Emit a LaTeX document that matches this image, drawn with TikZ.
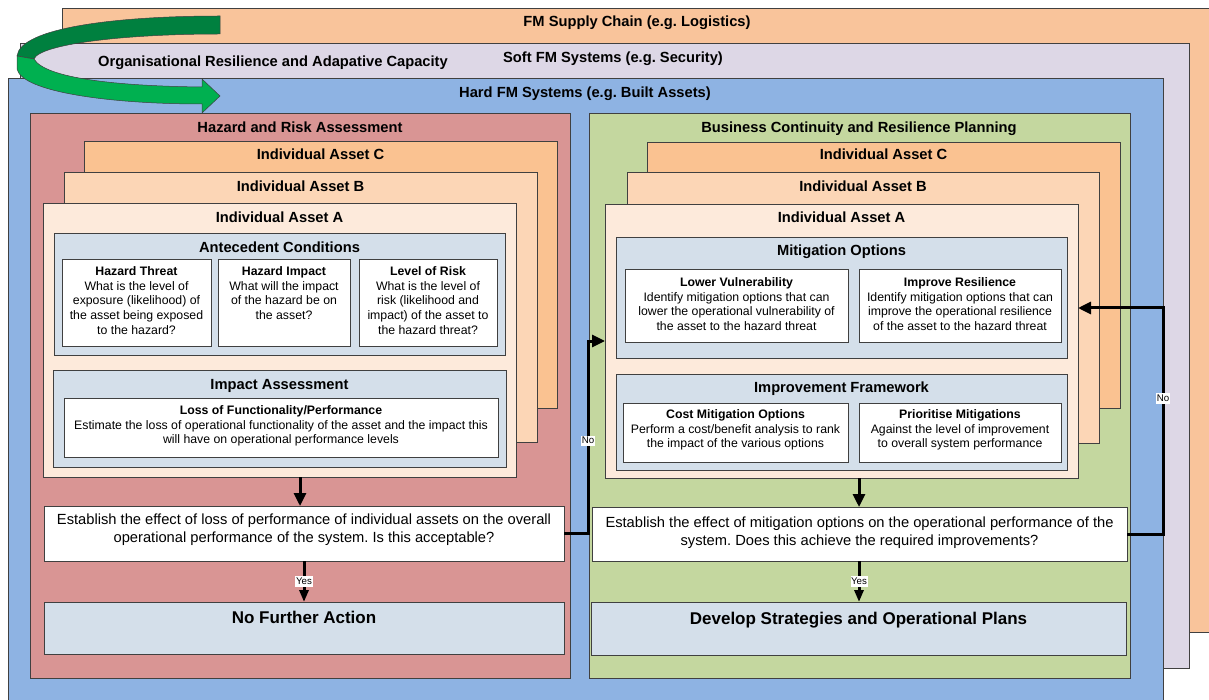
\documentclass[tikz,border=0pt]{standalone}
\usepackage{fontspec}
\setmainfont{Liberation Sans}
\usetikzlibrary{fit,arrows.meta}
\frenchspacing
\definecolor{cSupply}{HTML}{F9C49B}
\definecolor{cSoft}{HTML}{DDD7E6}
\definecolor{cHard}{HTML}{8EB3E3}
\definecolor{cRed}{HTML}{D99594}
\definecolor{cGreen}{HTML}{C4D79F}
\definecolor{cAC}{HTML}{FAC291}
\definecolor{cAB}{HTML}{FCD6B6}
\definecolor{cAA}{HTML}{FDEADB}
\definecolor{cPanel}{HTML}{D4DFEA}
\definecolor{cEdge}{HTML}{404040}
\definecolor{cDarkG}{HTML}{00803F}
\definecolor{cBrightG}{HTML}{00B050}
\begin{document}
\begin{tikzpicture}[x=1pt,y=-1pt,
  lay/.style={draw=cEdge, line width=0.9pt, inner sep=0pt, outer sep=0pt},
  wbox/.style={lay, fill=white},
  head/.style={font=\bfseries\fontsize{14.7}{17}\selectfont, text height=10.5pt, text depth=0pt, inner sep=0pt},
  body/.style={font=\fontsize{12.3}{14.6}\selectfont, align=center, inner sep=0pt, anchor=north},
  est/.style={font=\fontsize{14.7}{18}\selectfont, align=center, inner sep=0pt, anchor=north},
  final/.style={font=\bfseries\fontsize{17}{20}\selectfont, text height=12.2pt, text depth=0pt, inner sep=0pt},
  lbl/.style={fill=white, font=\fontsize{9.7}{10}\selectfont, text height=7pt, text depth=1.8pt, inner xsep=0.6pt, inner ysep=0.8pt},
  conn/.style={line width=3pt, -{Triangle[length=13pt,width=12pt]}},
  yesc/.style={line width=3pt, -{Triangle[length=12pt,width=9pt]}},
  arr/.style={draw=black!75, line width=0.5pt}
]
\useasboundingbox (0,0) rectangle (1209,700);

% outer layers
\node[lay, fill=cSupply, fit={(62,8)(1222,632)}] (supply) {};
\node[lay, fill=cSoft, fit={(20,43)(1189,668)}] (soft) {};
\node[lay, fill=cHard, fit={(8,78)(1163,712)}] (hard) {};
\node[head] (supplyT) at (637,21) {FM Supply Chain (e.g. Logistics)};
\node[head] (softT) at (613,57) {Soft FM Systems (e.g. Security)};
\node[head] (orgT) at (273,61) {Organisational Resilience and Adapative Capacity};
\node[head] (hardT) at (585,92) {Hard FM Systems (e.g. Built Assets)};

% left panel
\node[lay, fill=cRed, fit={(30,113)(570,678)}] (hra) {};
\node[head] (hraT) at (300,127) {Hazard and Risk Assessment};
\node[lay, fill=cAC, fit={(84,141)(557,408)}] (acL) {};
\node[head] (acLT) at (320.5,154) {Individual Asset C};
\node[lay, fill=cAB, fit={(64,172)(537,442)}] (abL) {};
\node[head] (abLT) at (300.5,186.5) {Individual Asset B};
\node[lay, fill=cAA, fit={(43,203)(516,477)}] (aaL) {};
\node[head] (aaLT) at (279.5,217) {Individual Asset A};

\node[lay, fill=cPanel, fit={(54,233)(505,355)}] (ante) {};
\node[head] (anteT) at (279.5,247) {Antecedent Conditions};
\node[wbox, fit={(62,259)(211,346)}] (ht) {};
\node[body] (htT) at ([yshift=-7.5pt]ht.north) {\textbf{Hazard Threat}\\What is the level of\\exposure (likelihood) of\\the asset being exposed\\to the hazard?};
\node[wbox, fit={(218,259)(350,346)}] (hi) {};
\node[body] (hiT) at ([yshift=-7.5pt]hi.north) {\textbf{Hazard Impact}\\What will the impact\\of the hazard be on\\the asset?};
\node[wbox, fit={(359,259)(497,346)}] (lr) {};
\node[body] (lrT) at ([yshift=-7.5pt]lr.north) {\textbf{Level of Risk}\\What is the level of\\risk (likelihood and\\impact) of the asset to\\the hazard threat?};

\node[lay, fill=cPanel, fit={(53,370)(506,467)}] (impact) {};
\node[head] (impactT) at (279.5,384) {Impact Assessment};
\node[wbox, fit={(64,398)(498,457)}] (loss) {};
\node[body] (lossT) at ([yshift=-7.5pt]loss.north) {\textbf{Loss of Functionality/Performance}\\Estimate the loss of operational functionality of the asset and the impact this\\will have on operational performance levels};

\node[wbox, fit={(44,506)(564,561)}] (estL) {};
\node[est] (estLT) at ([yshift=-7.6pt]estL.north) {Establish the effect of loss of performance of individual assets on the overall\\operational performance of the system. Is this acceptable?};
\node[lay, fill=cPanel, fit={(44,602)(564,654)}] (nfa) {};
\node[final] (nfaT) at (304,617) {No Further Action};

% right panel
\node[lay, fill=cGreen, fit={(589,113)(1130,678)}] (bcr) {};
\node[head] (bcrT) at (859,127) {Business Continuity and Resilience Planning};
\node[lay, fill=cAC, fit={(647,142)(1120,408)}] (acR) {};
\node[head] (acRT) at (883.5,154) {Individual Asset C};
\node[lay, fill=cAB, fit={(627,172)(1099,443)}] (abR) {};
\node[head] (abRT) at (863,186.5) {Individual Asset B};
\node[lay, fill=cAA, fit={(605,204)(1078,478)}] (aaR) {};
\node[head] (aaRT) at (841.5,217) {Individual Asset A};

\node[lay, fill=cPanel, fit={(616,237)(1067,358)}] (mit) {};
\node[head] (mitT) at (841.5,250) {Mitigation Options};
\node[wbox, fit={(625,269)(848,342)}] (lv) {};
\node[body] (lvT) at ([yshift=-8.5pt]lv.north) {\textbf{Lower Vulnerability}\\Identify mitigation options that can\\lower the operational vulnerability of\\the asset to the hazard threat};
\node[wbox, fit={(859,269)(1061,342)}] (ir) {};
\node[body] (irT) at ([yshift=-8.5pt]ir.north) {\textbf{Improve Resilience}\\Identify mitigation options that can\\improve the operational resilience\\of the asset to the hazard threat};

\node[lay, fill=cPanel, fit={(616,374)(1067,470)}] (impf) {};
\node[head] (impfT) at (841.5,387) {Improvement Framework};
\node[wbox, fit={(623,403)(848,462)}] (cmo) {};
\node[body] (cmoT) at ([yshift=-6.5pt]cmo.north) {\textbf{Cost Mitigation Options}\\Perform a cost/benefit analysis to rank\\the impact of the various options};
\node[wbox, fit={(859,403)(1061,462)}] (pm) {};
\node[body] (pmT) at ([yshift=-6.5pt]pm.north) {\textbf{Prioritise Mitigations}\\Against the level of improvement\\to overall system performance};

\node[wbox, fit={(592,507)(1127,561)}] (estR) {};
\node[est] (estRT) at ([yshift=-9.6pt]estR.north) {Establish the effect of mitigation options on the operational performance of the\\system. Does this achieve the required improvements?};
\node[lay, fill=cPanel, fit={(591,602)(1126,655)}] (dev) {};
\node[final] (devT) at (858.5,618) {Develop Strategies and Operational Plans};

% connectors
\coordinate (dL) at (300,477);
\draw[conn] (dL) -- (dL |- estL.north);
\draw[yesc] (estL.south) -- node[lbl]{Yes} (estL.south |- nfa.north);
\coordinate (dR) at (859,478);
\draw[conn] (dR) -- (dR |- estR.north);
\draw[yesc] (dR |- estR.south) -- node[lbl]{Yes} (dR |- dev.north);
\coordinate (noL) at (588,341);
\draw[conn] (estL.east) -| (noL) node[lbl, pos=0.74]{No} -- (noL -| aaR.west);
\coordinate (noR) at (1163,308);
\draw[conn] (estR.east) -| (noR) node[lbl, pos=0.8]{No} -- (noR -| aaR.east);

% circular green arrow
\filldraw[arr, fill=cDarkG] (220,16) .. controls (115,16) and (20,28) .. (17,56) -- (34,59) .. controls (40,44) and (125,34) .. (220,34) -- cycle;
\filldraw[arr, fill=cBrightG] (17,56) -- (17,69) .. controls (22,92) and (110,104) .. (202,104) -- (202,113) -- (220,96) -- (202,79) -- (202,87) .. controls (115,86) and (45,78) .. (34,59) -- cycle;
\end{tikzpicture}
\end{document}
